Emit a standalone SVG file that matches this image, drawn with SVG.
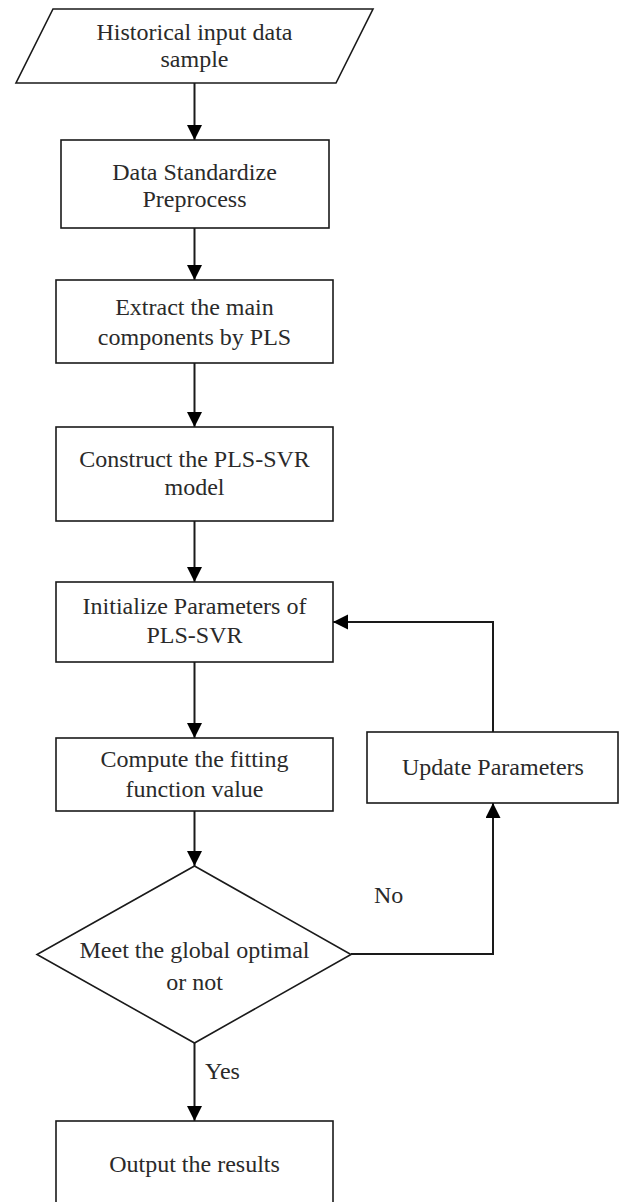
<svg xmlns="http://www.w3.org/2000/svg" width="625" height="1202" viewBox="0 0 625 1202">
  <style>
    .n { fill: #ffffff; stroke: #1a1a1a; stroke-width: 1.6; }
    .t { font-family: "Liberation Serif", "Times New Roman", serif; font-size: 24px; fill: #2a2a2a; text-anchor: middle; }
    .l { font-family: "Liberation Serif", "Times New Roman", serif; font-size: 24px; fill: #2a2a2a; }
    .c { fill: none; stroke: #1a1a1a; stroke-width: 2; }
  </style>
  <defs>
    <marker id="ah" markerUnits="userSpaceOnUse" markerWidth="16" markerHeight="16" refX="15" refY="7.5" orient="auto">
      <path d="M0,0 L15,7.5 L0,15 Z" fill="#000000"/>
    </marker>
  </defs>
  <rect width="625" height="1202" fill="#ffffff"/>

  <g id="connectors">
    <line class="c" x1="194.5" y1="83" x2="194.5" y2="140" marker-end="url(#ah)"/>
    <line class="c" x1="194.5" y1="228" x2="194.5" y2="280" marker-end="url(#ah)"/>
    <line class="c" x1="194.5" y1="363" x2="194.5" y2="427" marker-end="url(#ah)"/>
    <line class="c" x1="194.5" y1="521" x2="194.5" y2="582" marker-end="url(#ah)"/>
    <line class="c" x1="194.5" y1="662" x2="194.5" y2="738" marker-end="url(#ah)"/>
    <line class="c" x1="194.5" y1="811" x2="194.5" y2="866" marker-end="url(#ah)"/>
    <line class="c" x1="194.5" y1="1043" x2="194.5" y2="1121" marker-end="url(#ah)"/>
    <polyline class="c" points="351,954 493,954 493,803" marker-end="url(#ah)"/>
    <polyline class="c" points="493,732 493,622 333,622" marker-end="url(#ah)"/>
    <text class="l" x="374" y="903">No</text>
    <text class="l" x="205" y="1079">Yes</text>
  </g>

  <g id="input">
    <polygon class="n" points="53,9 373,9 336,83 16,83"/>
    <text class="t" x="194.5" y="40">Historical input data</text>
    <text class="t" x="194.5" y="67">sample</text>
  </g>

  <g id="standardize">
    <rect class="n" x="61" y="140" width="268" height="88"/>
    <text class="t" x="194.5" y="180">Data Standardize</text>
    <text class="t" x="194.5" y="207">Preprocess</text>
  </g>

  <g id="extract">
    <rect class="n" x="56" y="280" width="277" height="83"/>
    <text class="t" x="194.5" y="315">Extract the main</text>
    <text class="t" x="194.5" y="345">components by PLS</text>
  </g>

  <g id="construct">
    <rect class="n" x="56" y="427" width="277" height="94"/>
    <text class="t" x="194.5" y="467">Construct the PLS-SVR</text>
    <text class="t" x="194.5" y="495">model</text>
  </g>

  <g id="initialize">
    <rect class="n" x="56" y="582" width="277" height="80"/>
    <text class="t" x="194.5" y="614">Initialize Parameters of</text>
    <text class="t" x="194.5" y="643">PLS-SVR</text>
  </g>

  <g id="compute">
    <rect class="n" x="56" y="738" width="277" height="73"/>
    <text class="t" x="194.5" y="767">Compute the fitting</text>
    <text class="t" x="194.5" y="797">function value</text>
  </g>

  <g id="update">
    <rect class="n" x="367" y="732" width="251" height="71"/>
    <text class="t" x="493" y="775">Update Parameters</text>
  </g>

  <g id="decision">
    <polygon class="n" points="194.5,866 351,954.5 194.5,1043 37,954.5"/>
    <text class="t" x="194.5" y="958">Meet the global optimal</text>
    <text class="t" x="194.5" y="990">or not</text>
  </g>

  <g id="output">
    <rect class="n" x="56" y="1121" width="277" height="90"/>
    <text class="t" x="194.5" y="1172">Output the results</text>
  </g>
</svg>
